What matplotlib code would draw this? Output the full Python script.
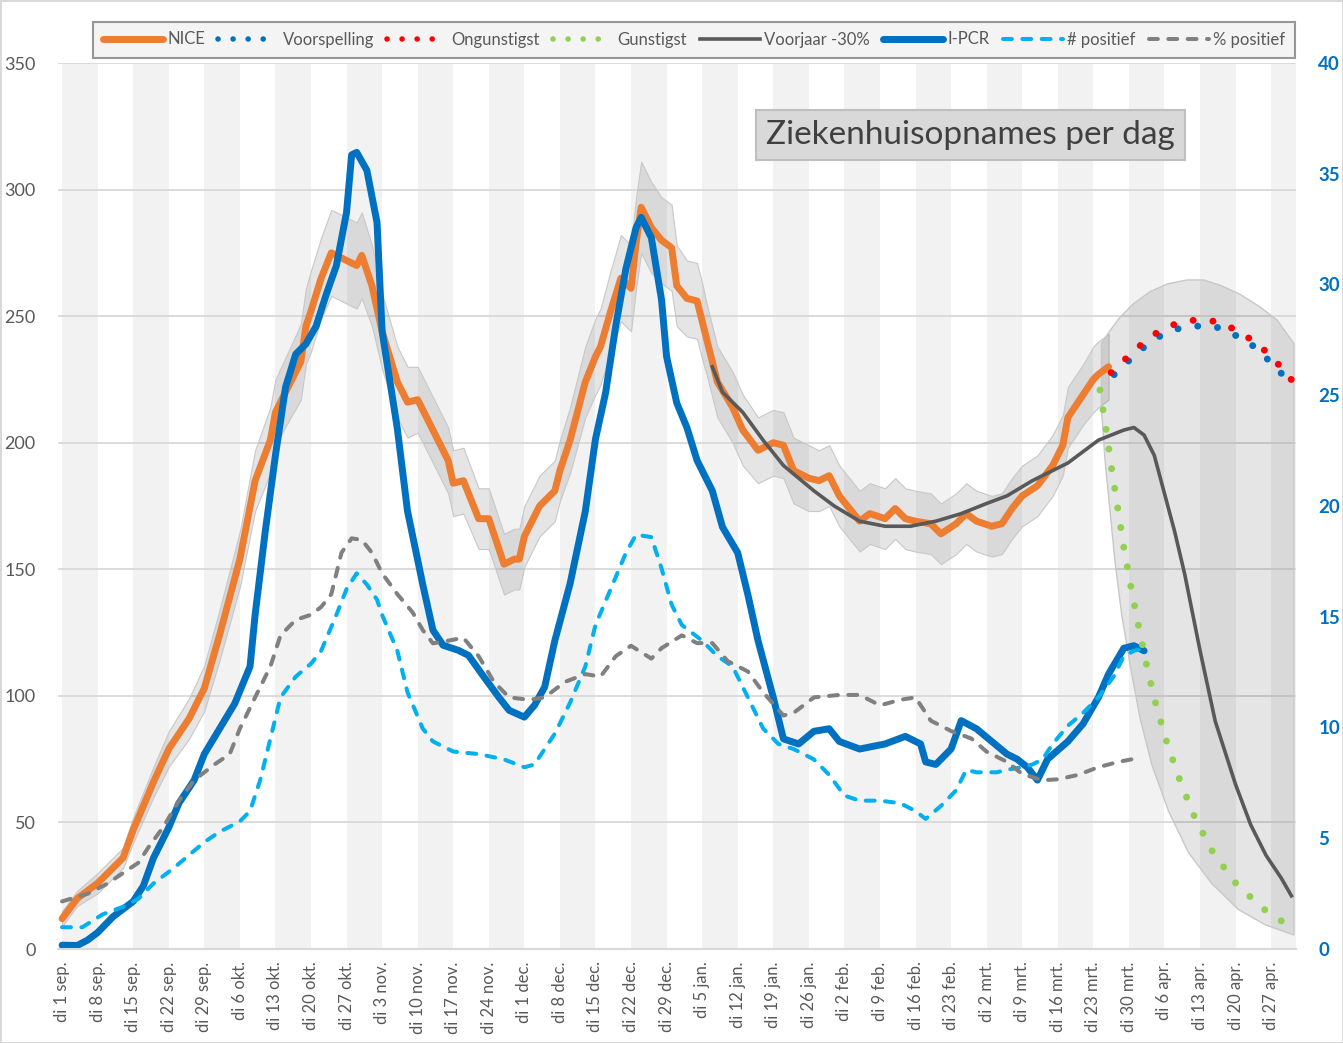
import matplotlib.pyplot as plt
import numpy as np
import pandas as pd
from matplotlib.lines import Line2D

plt.rcParams['font.family'] = ['Lato', 'DejaVu Sans']

START = pd.Timestamp('2020-09-01')
MONTHS = {9: 'sep.', 10: 'okt.', 11: 'nov.', 12: 'dec.', 1: 'jan.', 2: 'feb.', 3: 'mrt.', 4: 'apr.'}

# all days are counted from 1 Sep 2020
nice_day = [0, 3, 7, 12, 14, 18, 21, 25, 28, 31, 35, 38, 41, 42, 45, 47, 48, 49, 51, 53,
            56, 58, 59, 61, 63, 66, 68, 70, 72, 76, 77, 79, 82, 84, 87, 89, 90, 91, 94, 97,
            98, 100, 103, 105, 106, 108, 110, 112, 113, 114, 116, 118, 120, 121, 123, 125, 126, 127, 129, 132,
            134, 137, 140, 142, 144, 147, 149, 151, 153, 157, 159, 162, 164, 166, 168, 171, 173, 176, 178, 180,
            183, 185, 187, 189, 192, 195, 197, 198, 201, 203, 204, 206]
nice_val = [12, 20, 26, 36, 47, 66, 79, 91, 103, 124, 154, 185, 201, 212, 224, 232, 246, 252, 265, 275,
            272, 270, 274, 262, 244, 224, 216, 217, 209, 193, 184, 185, 170, 170, 152, 154, 154, 163, 175, 181,
            189, 201, 224, 234, 238, 252, 265, 261, 279, 293, 285, 280, 277, 262, 257, 256, 248, 240, 224, 214,
            205, 197, 200, 199, 189, 186, 185, 187, 179, 169, 172, 170, 174, 170, 169, 168, 164, 168, 172, 169,
            167, 168, 174, 179, 183, 191, 199, 210, 219, 225, 227, 230]
nice_hw = [3, 3, 4, 4, 5, 6, 7, 8, 9, 10, 11, 12, 13, 13, 14, 15, 15, 16, 16, 17,
           17, 17, 17, 16, 15, 14, 14, 13, 13, 13, 13, 13, 12, 12, 12, 12, 12, 12, 12, 12,
           12, 13, 14, 15, 15, 16, 17, 17, 18, 18, 18, 17, 17, 16, 15, 15, 15, 14, 14, 14,
           14, 13, 13, 13, 13, 13, 12, 12, 12, 12, 12, 12, 12, 12, 12, 12, 12, 12, 12, 12,
           12, 12, 12, 12, 12, 12, 12, 12, 12, 13, 13, 13]

ipcr_day = [0, 3, 5, 7, 10, 14, 16, 18, 21, 23, 26, 28, 31, 34, 37, 38, 40, 42, 44, 46,
            48, 50, 52, 54, 56, 57, 58, 60, 62, 63, 66, 68, 71, 73, 75, 78, 80, 83, 86, 88,
            91, 93, 95, 97, 100, 103, 105, 107, 109, 111, 113, 114, 116, 118, 119, 121, 123, 125, 128, 130,
            133, 135, 137, 140, 142, 145, 148, 151, 153, 157, 162, 166, 169, 170, 172, 175, 177, 180, 183, 186,
            188, 190, 192, 194, 198, 201, 204, 206, 209, 211, 213]
ipcr_val = [1.5, 1.4, 3.5, 6.5, 12.7, 18.8, 24.9, 36, 48, 57.6, 66.7, 77, 87, 97, 111.6, 132, 165, 195, 222, 235,
            239, 246, 258.6, 270, 291, 313.7, 314.7, 307.6, 287, 244, 205.5, 173, 144, 126, 120, 118, 116, 107.6, 99.4, 94.3,
            91.6, 96.3, 103.5, 121.8, 144.3, 172.9, 201.4, 219.8, 246.3, 268.8, 285, 289, 281, 256.5, 234, 215.7, 206, 193, 181, 166.7,
            156.5, 140, 121.8, 99.4, 83, 81, 86, 87, 82, 79, 81, 84, 81, 73.9, 72.9, 79, 90.2, 87, 82, 77,
            75, 71.8, 66.7, 75, 82, 89, 99.4, 108.6, 118.8, 119.8, 117.8]

pos_day = [0, 4, 8, 12, 15, 18, 22, 25, 28, 31, 35, 37, 39, 41, 43, 46, 49, 51, 54, 56,
           58, 60, 62, 63, 66, 68, 71, 73, 77, 82, 87, 91, 93, 95, 97, 100, 103, 105, 108, 111,
           113, 116, 118, 120, 122, 126, 129, 132, 135, 138, 141, 144, 148, 151, 154, 157, 161, 165, 168, 170,
           173, 176, 178, 180, 184, 186, 189, 191, 193, 195, 198, 201, 204, 207, 209, 211, 213]
pos_val = [8.6, 8.6, 13.7, 16.7, 19.8, 25.9, 32, 37.1, 42.2, 46.3, 50.4, 54.5, 66.7, 83, 99.4, 107.6, 112.7, 117.8, 132, 142.2,
           148.4, 144, 138, 132, 117.8, 101.4, 87.1, 82, 78, 77, 74.9, 71.8, 72.9, 79, 85.1, 97.3, 111.6, 128, 142.2, 156.5,
           163.7, 162.7, 150.4, 136, 128, 121.8, 115.7, 111.6, 99.4, 87.1, 81, 79, 74.9, 68.8, 60.6, 58.6, 58.6, 57.6, 54.5, 51.4,
           56.5, 62.7, 70.8, 69.8, 69.8, 70.8, 71.8, 72.9, 74.9, 81, 88.2, 93.3, 99.4, 107.6, 115.7, 117.8, 118.8]

# % positief, right axis (percent)
pct_day = [0, 5, 9, 12, 15, 17, 20, 23, 26, 30, 33, 35, 38, 41, 43, 46, 49, 51, 53, 55,
           57, 59, 61, 63, 66, 69, 71, 73, 76, 79, 82, 85, 88, 92, 95, 99, 103, 106, 109, 112,
           116, 118, 122, 125, 128, 131, 135, 138, 142, 144, 148, 153, 157, 161, 165, 168, 171, 175, 179, 182,
           186, 189, 193, 196, 200, 204, 208, 212]
pct_val = [2.15, 2.49, 2.96, 3.43, 3.89, 4.59, 5.53, 6.70, 7.62, 8.33, 8.80, 9.95, 11.36, 12.75, 14.16, 14.86, 15.09, 15.44, 16.02, 17.89,
           18.54, 18.47, 17.89, 16.96, 16.02, 15.2, 14.4, 13.8, 13.92, 14.05, 13.22, 12.06, 11.36, 11.25, 11.36, 12.06, 12.41, 12.3, 13.22, 13.69,
           13.11, 13.58, 14.16, 13.81, 13.81, 13.0, 12.53, 11.59, 10.54, 10.66, 11.36, 11.47, 11.47, 11.0, 11.25, 11.36, 10.31, 9.84, 9.5, 8.91,
           8.45, 7.9, 7.62, 7.66, 7.86, 8.21, 8.45, 8.63]

vj_day = [128, 130, 134, 138, 142, 148, 152, 157, 162, 167, 172, 177, 182, 186, 191, 198, 204, 209, 211, 213,
          215, 217, 219, 221, 224, 227, 231, 234, 237, 240, 242]
vj_val = [230, 220, 212, 201, 191, 181, 175, 169, 167, 167, 169, 172, 176, 179, 185, 192, 201, 205, 206, 203,
          195, 180, 165, 148, 118, 90, 65, 49, 37, 28, 21]

gun_day = [204.3, 205.5, 206.6, 207.8, 209.0, 210.4, 211.9, 213.5, 215.3, 217.5, 220.1, 223.0, 226.7, 231.3, 237.2, 240.4]
gun_val = [220.8, 205.5, 189.8, 174.3, 158.6, 143.1, 127.6, 112, 96.7, 81.4, 66.3, 51.8, 37.6, 25.3, 14.7, 10.6]

ong_day = [206.5, 209.4, 212.3, 215.4, 218.9, 222.8, 226.7, 230.4, 233.8, 236.9, 239.6, 242.2]
ong_val = [227.7, 233.2, 238.5, 243.3, 246.7, 248.4, 248.0, 245.2, 241.1, 236.2, 230.6, 224.4]

vsp_day = [207.1, 210.0, 212.9, 216.2, 219.8, 223.7, 227.5, 231.1, 234.5, 237.4, 240.1]
vsp_val = [226.9, 232.4, 237.6, 242.2, 245.1, 246.1, 245.5, 242.3, 238.2, 232.8, 227.2]

fc_up_day = [204.6, 206.3, 208.2, 210.9, 214.1, 217.5, 221.4, 224.7, 228.0, 231.9, 235.9, 239.2, 242.5]
fc_up_val = [239.2, 244.3, 249.4, 254.9, 259.6, 262.7, 264.3, 264.3, 262.2, 258.6, 253.5, 248.4, 239.2]
fc_lo_day = [204.6, 205.3, 206.3, 207.3, 208.6, 210.3, 212.2, 214.5, 217.8, 221.7, 226.3, 231.5, 236.8, 242.5]
fc_lo_val = [213.7, 193.3, 172.9, 152.4, 132, 111.6, 91.2, 72.9, 54.5, 38.2, 25.9, 15.7, 9.6, 5.5]


def to_date(days):
    return START + pd.to_timedelta(np.asarray(days, dtype=float), unit='D')


fig = plt.figure(figsize=(13.43, 10.43), dpi=100, linewidth=2, edgecolor='#d9d9d9')
ax = fig.add_axes([58 / 1343, 1 - 949 / 1043, 1238 / 1343, 886 / 1043])
ax2 = ax.twinx()

# alternating week bands
for k in range(0, 35, 2):
    ax.axvspan(to_date(7 * k), to_date(7 * k + 7), color='#f2f2f2', lw=0, zorder=0)

nice_v = np.array(nice_val, dtype=float)
nice_h = np.array(nice_hw, dtype=float)
ax.fill_between(to_date(nice_day), nice_v - nice_h, nice_v + nice_h,
                facecolor=(0, 0, 0, 0.1), edgecolor='#c8c8c8', lw=0.8, zorder=1)
ax.fill(to_date(fc_up_day + fc_lo_day[::-1]), fc_up_val + fc_lo_val[::-1],
        facecolor=(0, 0, 0, 0.1), edgecolor='#c8c8c8', lw=1, zorder=1)

dot = (0, (0.01, 2.85))
dash = (0, (2.2, 2.6))
l_nice, = ax.plot(to_date(nice_day), nice_val, color='#ED7D31', lw=5, solid_capstyle='round',
                  solid_joinstyle='round', label='NICE', zorder=3)
l_ipcr, = ax.plot(to_date(ipcr_day), ipcr_val, color='#0070C0', lw=5, solid_capstyle='round',
                  solid_joinstyle='round', label='I-PCR', zorder=4)
l_pos, = ax.plot(to_date(pos_day), pos_val, color='#00B0F0', lw=2.9, ls=dash, dash_capstyle='round',
                 label='# positief', zorder=6)
l_vj, = ax.plot(to_date(vj_day), vj_val, color='#595959', lw=2.6, solid_joinstyle='round',
                label='Voorjaar -30%', zorder=7)
ax.plot(to_date(vsp_day), vsp_val, color='#0070C0', lw=5, ls=dot, dash_capstyle='round', zorder=8)
ax.plot(to_date(ong_day), ong_val, color='#FF0000', lw=5, ls=dot, dash_capstyle='round', zorder=9)
ax.plot(to_date(gun_day), gun_val, color='#92D050', lw=5, ls=dot, dash_capstyle='round', zorder=10)
l_pct, = ax2.plot(to_date(pct_day), pct_val, color='#808080', lw=2.9, ls=dash, dash_capstyle='round',
                  label='% positief')

# legend keys for the dotted series: four small dots each
four_dots = (0, (0.01, 2.7, 0.01, 2.7, 0.01, 2.7, 0.01, 40))
l_vsp = Line2D([], [], color='#0070C0', lw=4, ls=four_dots, dash_capstyle='round', label='Voorspelling')
l_ong = Line2D([], [], color='#FF0000', lw=4, ls=four_dots, dash_capstyle='round', label='Ongunstigst')
l_gun = Line2D([], [], color='#92D050', lw=4, ls=four_dots, dash_capstyle='round', label='Gunstigst')

ax.set_xlim(to_date(-0.8), to_date(242.9))
ax.set_ylim(0, 350)
ax2.set_ylim(0, 40)
ax.set_yticks(range(0, 351, 50))
ax2.set_yticks(range(0, 41, 5))
ax.yaxis.grid(True, color='#d9d9d9', lw=1.3, zorder=0.5)
ax.set_axisbelow(True)

ticks = pd.date_range('2020-09-01', '2021-04-27', freq='7D')
ax.set_xticks(ticks)
ax.set_xticklabels([f'di {d.day} {MONTHS[d.month]}' for d in ticks], rotation=90, fontsize=12, color='#595959')
ax.tick_params(axis='x', length=0, pad=9)
ax.tick_params(axis='y', length=0, pad=16, labelsize=13, labelcolor='#595959')
ax2.tick_params(axis='y', length=0, pad=16, labelsize=13.5, labelcolor='#0070C0')
for t in ax2.get_yticklabels():
    t.set_fontweight('bold')

for a in (ax, ax2):
    for s in ('left', 'right', 'top'):
        a.spines[s].set_visible(False)
    a.spines['bottom'].set_color('#d9d9d9')
    a.spines['bottom'].set_linewidth(1.5)

ax.text(0.737, 0.919, 'Ziekenhuisopnames per dag', transform=ax.transAxes, ha='center', va='center',
        fontsize=24, color='#404040',
        bbox=dict(boxstyle='square,pad=0.3', fc='#d9d9d9', ec='#bfbfbf', lw=1.5))

handles = [l_nice, l_vsp, l_ong, l_gun, l_vj, l_ipcr, l_pos, l_pct]
leg = fig.legend(handles, [h.get_label() for h in handles], loc='center', bbox_to_anchor=(694 / 1343, 1 - 39.5 / 1043),
                 ncol=8, fontsize=12, handlelength=3.6, handletextpad=0.25, columnspacing=0.8,
                 frameon=True, fancybox=False, borderpad=0.6, labelcolor='#595959')
leg.get_frame().set_edgecolor('#7f7f7f')
leg.get_frame().set_facecolor('#f2f2f2')
leg.get_frame().set_linewidth(1.5)

fig.savefig('out.png', dpi=100)
